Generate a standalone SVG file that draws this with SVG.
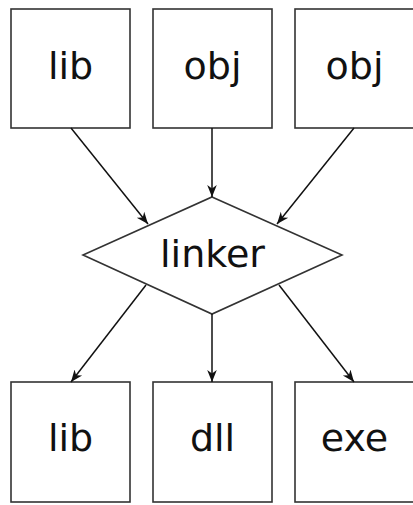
<svg xmlns="http://www.w3.org/2000/svg" width="413" height="505" viewBox="0 0 413 505">
<defs>
<style>
.box{fill:#fff;stroke:#333;stroke-width:1.6}
.lbl{font-family:"DejaVu Sans",sans-serif;font-size:38px;fill:#111;text-anchor:middle}
.edge{stroke:#111;stroke-width:1.5;fill:none;marker-end:url(#ah)}
</style>
<marker id="ah" viewBox="0 0 10 10" refX="10" refY="5" markerWidth="12" markerHeight="12" markerUnits="userSpaceOnUse" orient="auto">
<path d="M0,1 L10,5 L0,9 L3,5 Z" fill="#111"/>
</marker>
</defs>
<rect width="413" height="505" fill="#fff"/>
<g id="lib1"><rect class="box" x="11" y="9" width="119" height="119"/><text class="lbl" x="70.5" y="79">lib</text></g>
<g id="obj1"><rect class="box" x="153" y="9" width="119" height="119"/><text class="lbl" x="212.5" y="79">obj</text></g>
<g id="obj2"><rect class="box" x="295" y="9" width="119" height="119"/><text class="lbl" x="354.5" y="79">obj</text></g>
<g id="linker"><polygon class="box" points="212,197 342,255 212,314 83,255"/><text class="lbl" x="212.5" y="267">linker</text></g>
<g id="lib2"><rect class="box" x="11" y="382" width="119" height="120"/><text class="lbl" x="70.5" y="451">lib</text></g>
<g id="dll"><rect class="box" x="153" y="382" width="119" height="120"/><text class="lbl" x="212.5" y="451">dll</text></g>
<g id="exe"><rect class="box" x="295" y="382" width="119" height="120"/><text class="lbl" x="354.5" y="451">exe</text></g>
<g id="connectors">
<line class="edge" x1="71" y1="128" x2="148" y2="224"/>
<line class="edge" x1="212" y1="128" x2="212" y2="197"/>
<line class="edge" x1="354" y1="128" x2="277" y2="224"/>
<line class="edge" x1="146" y1="285" x2="71" y2="382"/>
<line class="edge" x1="212" y1="314" x2="212" y2="382"/>
<line class="edge" x1="279" y1="285" x2="354" y2="382"/>
</g>
</svg>
